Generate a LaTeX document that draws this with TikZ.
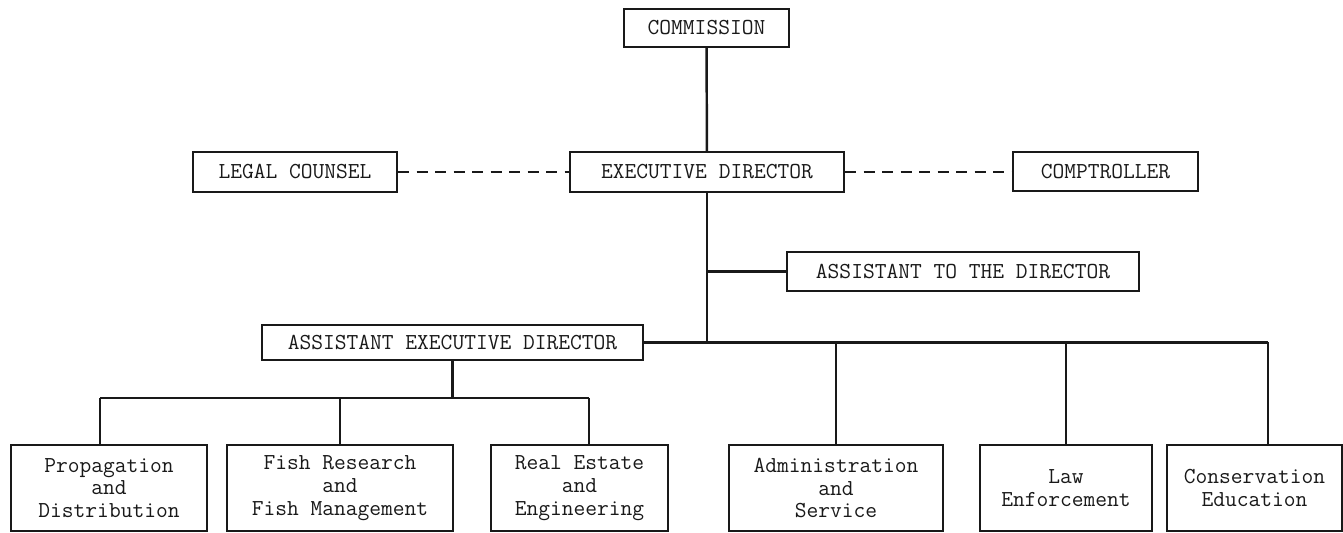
\documentclass[tikz,border=0pt]{standalone}
\usepackage{fontspec}
\usepackage{tikz}
\usetikzlibrary{positioning,calc}
\tikzset{
  every picture/.append style={line width=1.4pt},
  every node/.append style={font=\ttfamily\fontsize{13}{13}\selectfont},
}
\tikzset{
  office/.style={draw, rectangle, align=center, inner sep=2pt},
  unitbox/.style={office, minimum height=1.72cm},
  link/.style={draw},
  staffline/.style={draw, dash pattern=on 0.22cm off 0.15cm}
}
\begin{document}
\begin{tikzpicture}[x=0.02cm, y=-0.02cm, black!90]
\useasboundingbox (0,0) rectangle (1343,533);

\node[office, minimum width=3.30cm, minimum height=0.76cm] (comm) at (706.5,28) {COMMISSION};
\node[office, minimum width=5.48cm, minimum height=0.80cm] (exec) at (707,172) {EXECUTIVE DIRECTOR};
\node[office, minimum width=4.08cm, minimum height=0.80cm] (legal) at (295,172) {LEGAL COUNSEL};
\node[office, minimum width=3.70cm, minimum height=0.78cm] (compt) at (1105.5,171.5) {COMPTROLLER};
\node[office, minimum width=7.04cm, minimum height=0.78cm] (asst) at (963,271.5) {ASSISTANT TO THE DIRECTOR};
\node[office, minimum width=7.62cm, minimum height=0.70cm] (aed) at (452.5,342.5) {ASSISTANT EXECUTIVE DIRECTOR};

\node[unitbox, minimum width=3.92cm] (prop) at (109,488) {Propagation\\and\\Distribution};
\node[unitbox, minimum width=4.52cm] (fish) at (340,488) {Fish Research\\and\\Fish Management};
\node[unitbox, minimum width=3.54cm] (real) at (579.5,488) {Real Estate\\and\\Engineering};
\node[unitbox, minimum width=4.28cm] (admin) at (836,488) {Administration\\and\\Service};
\node[unitbox, minimum width=3.44cm] (law) at (1066,488) {Law\\Enforcement};
\node[unitbox, minimum width=3.50cm] (cons) at (1254.5,488) {Conservation\\Education};

\coordinate (rbus) at (1268,342.5);
\coordinate (pj) at (100,398);
\coordinate (rj) at (589,398);

\draw[link] (comm) -- (exec);
\draw[staffline] (legal.east) -- (exec.west);
\draw[staffline] (exec.east) -- (exec.east -| compt.west);
\draw[link] (exec.south) -- (exec.south |- aed.east);
\draw[link] (exec.south |- asst.west) -- (asst.west);
\draw[link] (aed.east) -- (rbus);
\draw[link] (admin.north |- aed.east) -- (admin.north);
\draw[link] (law.north |- aed.east) -- (law.north);
\draw[link] (rbus) -- (rbus |- cons.north);
\draw[link] (aed.south) -- (aed.south |- pj);
\draw[link] (pj) -- (rj);
\draw[link] (pj) -- (pj |- prop.north);
\draw[link] (fish.north |- pj) -- (fish.north);
\draw[link] (rj) -- (rj |- real.north);
\end{tikzpicture}
\end{document}
